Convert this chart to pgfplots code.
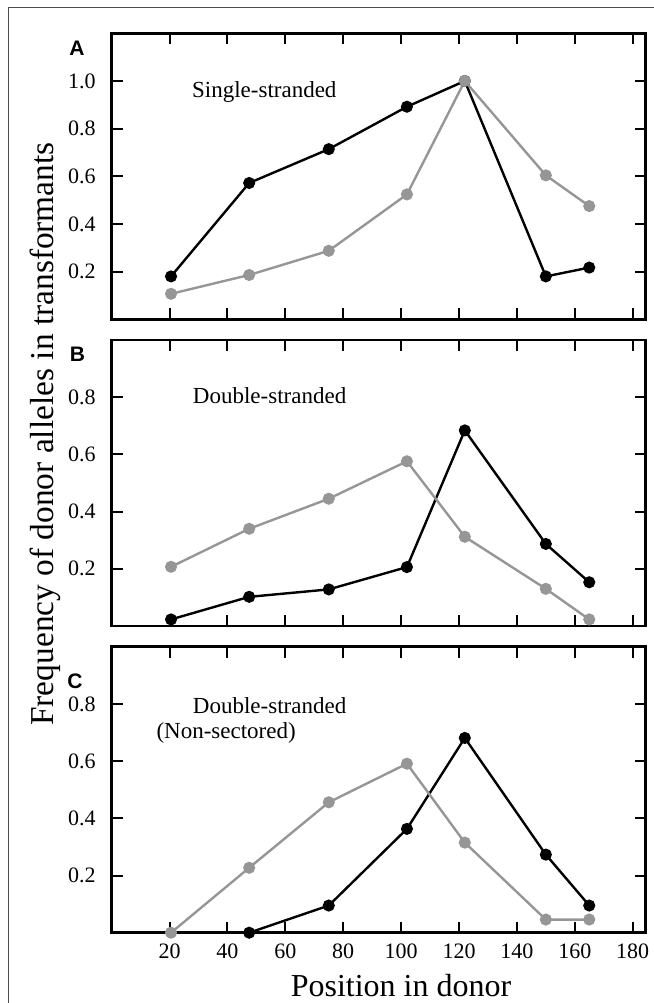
\documentclass[border=0pt]{standalone}
\usepackage{fontspec}
\setmainfont{Liberation Serif}
\newfontfamily\lettersans{Liberation Sans}
\usepackage{pgfplots}
\pgfplotsset{compat=1.18}

\definecolor{ptgray}{RGB}{150,150,150}

\pgfplotsset{
  panel/.style={
    scale only axis, width=267pt, height=143pt,
    xmin=0, xmax=184.5, ymin=0,
    xtick={20,40,60,80,100,120,140,160,180},
    line width=1.4pt,
    major tick length=5.5pt,
    tick style={line width=1pt, black},
    tick align=inside,
    ticklabel style={font=\fontsize{11}{13}\selectfont},
    /pgf/number format/assume math mode=true,
    yticklabel style={/pgf/number format/.cd, fixed, fixed zerofill, precision=1, /tikz/.cd, xshift=-4pt},
    clip=false,
  },
  blk/.style={black, line width=1.2pt, mark=*, mark size=2.4pt, mark options={solid}},
  gry/.style={ptgray, line width=1.2pt, mark=*, mark size=2.4pt, mark options={solid}},
}
\tikzset{
  note/.style={anchor=west, inner sep=0pt, font=\fontsize{11.5}{14}\selectfont},
  letter/.style={font=\lettersans\bfseries\fontsize{10.5}{12}\selectfont},
}

\begin{document}
\begin{tikzpicture}
\useasboundingbox (0,0) rectangle (327pt,-501.5pt);
\draw[line width=0.5pt, black!70] (4pt,-501.5pt) -- (4pt,-3.75pt) -- (327pt,-3.75pt);

% A: single-stranded
\begin{axis}[panel, at={(55.85pt,-16.65pt)}, anchor=north west,
  ymax=1.2, ytick={0.2,0.4,0.6,0.8,1.0}, xticklabels={}]
\addplot[blk] coordinates {(20.5,0.18) (47.5,0.572) (75,0.714) (102,0.892) (122,1.0) (150,0.18) (165,0.217)};
\addplot[gry] coordinates {(20.5,0.107) (47.5,0.186) (75,0.2875) (102,0.524) (122,1.0) (150,0.604) (165,0.475)};
\node[note] at (axis cs:27.3,0.954) {Single-stranded};
\end{axis}

% B: double-stranded
\begin{axis}[panel, at={(55.85pt,-170pt)}, anchor=north west,
  ymax=1.0, ytick={0.2,0.4,0.6,0.8}, xticklabels={}]
\addplot[blk] coordinates {(20.5,0.023) (47.5,0.102) (75,0.128) (102,0.206) (122,0.684) (150,0.287) (165,0.153)};
\addplot[gry] coordinates {(20.5,0.207) (47.5,0.34) (75,0.445) (102,0.576) (122,0.312) (150,0.13) (165,0.023)};
\node[note] at (axis cs:27.6,0.805) {Double-stranded};
\end{axis}

% C: double-stranded, non-sectored
\begin{axis}[panel, at={(55.85pt,-323.35pt)}, anchor=north west,
  ymax=1.0, ytick={0.2,0.4,0.6,0.8},
  xticklabel style={yshift=-1.5pt}]
\addplot[blk] coordinates {(47.5,0) (75,0.095) (102,0.363) (122,0.681) (150,0.273) (165,0.095)};
\addplot[gry] coordinates {(20.5,0) (47.5,0.227) (75,0.456) (102,0.591) (122,0.315) (150,0.046) (165,0.046)};
\node[note] at (axis cs:27.6,0.793) {Double-stranded};
\node[note] at (axis cs:15,0.70) {(Non-sectored)};
\end{axis}

\node[letter] at (38.5pt,-24.15pt) {A};
\node[letter] at (38.75pt,-177pt) {B};
\node[letter] at (37.5pt,-340.5pt) {C};

\node[rotate=90, anchor=base, font=\fontsize{16.7}{20}\selectfont] at (26.7pt,-217pt) {Frequency of donor alleles in transformants};
\node[anchor=base, font=\fontsize{16}{19}\selectfont] at (200.5pt,-498.3pt) {Position in donor};
\end{tikzpicture}
\end{document}
